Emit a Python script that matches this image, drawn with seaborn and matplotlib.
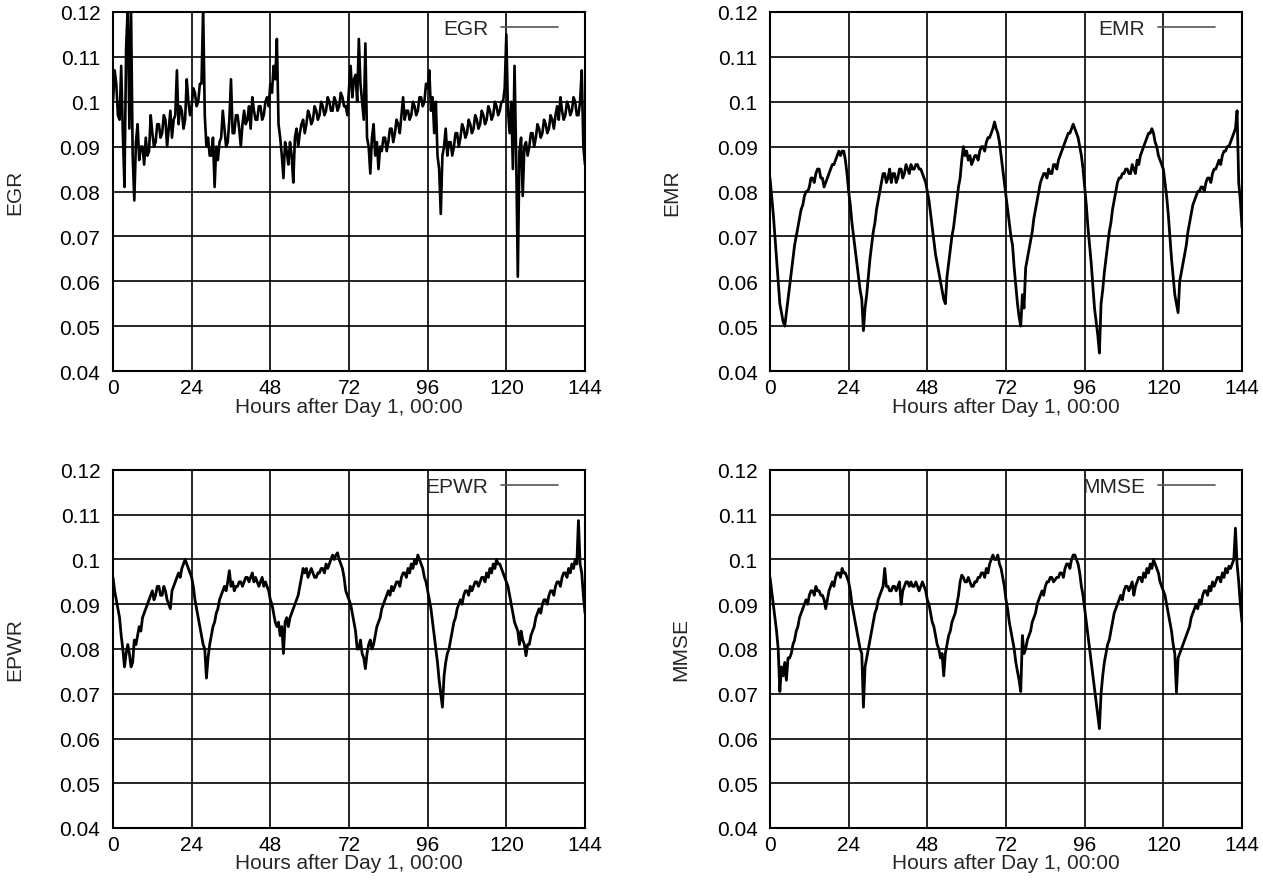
import numpy as np
import pandas as pd
import matplotlib
matplotlib.use("Agg")
import matplotlib.pyplot as plt
import seaborn as sns

sns.set_style("white")
plt.rcParams['font.family'] = ['Liberation Sans', 'DejaVu Sans']

# sample times: every half hour from 0 to 144
hours = np.arange(0, 144.5, 0.5)

# values read at h, h+0.5 for each hour h
egr = [
    0.100, 0.107, 0.104, 0.097, 0.096, 0.108, 0.093, 0.081, 0.112, 0.121,
    0.094, 0.121, 0.088, 0.078, 0.091, 0.095, 0.087, 0.090, 0.090, 0.086,
    0.092, 0.088, 0.089, 0.097, 0.093, 0.090, 0.091, 0.095, 0.095, 0.092,
    0.093, 0.097, 0.096, 0.090, 0.094, 0.098, 0.092, 0.096, 0.097, 0.107,
    0.095, 0.099, 0.098, 0.094, 0.096, 0.105, 0.100, 0.097, 0.099, 0.103,
    0.102, 0.099, 0.100, 0.104, 0.104, 0.121, 0.097, 0.090, 0.092, 0.088,
    0.088, 0.092, 0.081, 0.090, 0.087, 0.091, 0.092, 0.098, 0.094, 0.090,
    0.091, 0.096, 0.105, 0.093, 0.093, 0.097, 0.097, 0.094, 0.090, 0.095,
    0.098, 0.095, 0.096, 0.099, 0.094, 0.101, 0.098, 0.096, 0.096, 0.099,
    0.099, 0.096, 0.097, 0.100, 0.101, 0.099, 0.104, 0.102, 0.108, 0.105,
    0.114, 0.095, 0.092, 0.088, 0.083, 0.091, 0.089, 0.086, 0.091, 0.088,
    0.082, 0.092, 0.094, 0.090, 0.093, 0.095, 0.096, 0.093, 0.095, 0.098,
    0.097, 0.095, 0.096, 0.099, 0.098, 0.096, 0.097, 0.100, 0.099, 0.097,
    0.098, 0.101, 0.100, 0.098, 0.098, 0.101, 0.100, 0.098, 0.099, 0.102,
    0.101, 0.099, 0.099, 0.097, 0.103, 0.108, 0.101, 0.105, 0.106, 0.100,
    0.114, 0.104, 0.100, 0.096, 0.113, 0.092, 0.090, 0.084, 0.092, 0.095,
    0.088, 0.091, 0.085, 0.090, 0.089, 0.092, 0.092, 0.089, 0.091, 0.094,
    0.094, 0.091, 0.093, 0.096, 0.095, 0.093, 0.097, 0.101, 0.096, 0.098,
    0.098, 0.096, 0.097, 0.100, 0.099, 0.097, 0.098, 0.101, 0.101, 0.099,
    0.100, 0.104, 0.103, 0.107, 0.098, 0.101, 0.093, 0.100, 0.088, 0.085,
    0.075, 0.088, 0.090, 0.094, 0.088, 0.091, 0.091, 0.088, 0.090, 0.093,
    0.093, 0.090, 0.092, 0.095, 0.094, 0.092, 0.093, 0.096, 0.095, 0.093,
    0.094, 0.097, 0.096, 0.094, 0.095, 0.098, 0.097, 0.095, 0.096, 0.099,
    0.098, 0.096, 0.097, 0.100, 0.099, 0.097, 0.098, 0.100, 0.100, 0.103,
    0.115, 0.098, 0.093, 0.100, 0.085, 0.108, 0.088, 0.061, 0.089, 0.092,
    0.079, 0.090, 0.091, 0.088, 0.090, 0.093, 0.093, 0.090, 0.092, 0.095,
    0.094, 0.092, 0.093, 0.096, 0.095, 0.093, 0.094, 0.097, 0.096, 0.094,
    0.097, 0.099, 0.096, 0.101, 0.098, 0.096, 0.097, 0.100, 0.099, 0.097,
    0.098, 0.101, 0.100, 0.097, 0.097, 0.100, 0.107, 0.090, 0.086]

emr = [
    0.083, 0.079, 0.075, 0.070, 0.065, 0.060, 0.055, 0.053, 0.051, 0.050,
    0.053, 0.056, 0.059, 0.062, 0.065, 0.068, 0.070, 0.072, 0.074, 0.076,
    0.077, 0.079, 0.080, 0.080, 0.081, 0.083, 0.083, 0.082, 0.084, 0.085,
    0.085, 0.083, 0.083, 0.081, 0.082, 0.083, 0.084, 0.085, 0.086, 0.086,
    0.087, 0.088, 0.089, 0.088, 0.089, 0.089, 0.087, 0.084, 0.080, 0.077,
    0.073, 0.070, 0.067, 0.064, 0.061, 0.058, 0.056, 0.049, 0.054, 0.057,
    0.061, 0.065, 0.068, 0.071, 0.073, 0.076, 0.078, 0.080, 0.082, 0.084,
    0.084, 0.082, 0.083, 0.085, 0.082, 0.084, 0.084, 0.082, 0.083, 0.085,
    0.085, 0.083, 0.084, 0.086, 0.085, 0.084, 0.086, 0.085, 0.085, 0.086,
    0.086, 0.085, 0.085, 0.084, 0.083, 0.082, 0.080, 0.078, 0.075, 0.072,
    0.069, 0.066, 0.064, 0.062, 0.060, 0.058, 0.056, 0.055, 0.061, 0.064,
    0.067, 0.070, 0.072, 0.075, 0.078, 0.081, 0.083, 0.087, 0.090, 0.088,
    0.089, 0.087, 0.088, 0.086, 0.087, 0.088, 0.088, 0.087, 0.089, 0.090,
    0.090, 0.089, 0.091, 0.092, 0.092, 0.093, 0.094, 0.0955, 0.094, 0.093,
    0.091, 0.088, 0.085, 0.082, 0.079, 0.076, 0.073, 0.070, 0.068, 0.063,
    0.059, 0.055, 0.052, 0.050, 0.057, 0.054, 0.063, 0.065, 0.067, 0.069,
    0.071, 0.074, 0.076, 0.078, 0.080, 0.082, 0.083, 0.084, 0.084, 0.083,
    0.085, 0.084, 0.084, 0.086, 0.086, 0.085, 0.087, 0.088, 0.089, 0.090,
    0.091, 0.092, 0.093, 0.093, 0.094, 0.095, 0.094, 0.093, 0.092, 0.090,
    0.088, 0.085, 0.081, 0.077, 0.072, 0.068, 0.064, 0.059, 0.054, 0.051,
    0.048, 0.044, 0.055, 0.058, 0.062, 0.065, 0.068, 0.071, 0.073, 0.076,
    0.078, 0.080, 0.082, 0.083, 0.083, 0.084, 0.084, 0.085, 0.085, 0.084,
    0.084, 0.086, 0.085, 0.084, 0.087, 0.086, 0.088, 0.089, 0.090, 0.091,
    0.092, 0.093, 0.093, 0.094, 0.093, 0.091, 0.090, 0.088, 0.087, 0.086,
    0.085, 0.082, 0.079, 0.075, 0.070, 0.065, 0.061, 0.057, 0.055, 0.053,
    0.060, 0.062, 0.064, 0.066, 0.068, 0.071, 0.073, 0.075, 0.077, 0.078,
    0.079, 0.080, 0.080, 0.081, 0.081, 0.080, 0.082, 0.083, 0.083, 0.082,
    0.084, 0.085, 0.085, 0.086, 0.087, 0.086, 0.088, 0.089, 0.089, 0.090,
    0.090, 0.091, 0.092, 0.093, 0.094, 0.098, 0.082, 0.078, 0.072]

epwr = [
    0.096, 0.093, 0.091, 0.089, 0.087, 0.083, 0.080, 0.076, 0.079, 0.081,
    0.079, 0.076, 0.077, 0.082, 0.081, 0.083, 0.085, 0.084, 0.087, 0.088,
    0.089, 0.090, 0.091, 0.092, 0.093, 0.091, 0.092, 0.094, 0.094, 0.092,
    0.092, 0.094, 0.093, 0.091, 0.090, 0.089, 0.093, 0.094, 0.095, 0.096,
    0.097, 0.096, 0.098, 0.099, 0.100, 0.099, 0.098, 0.097, 0.096, 0.094,
    0.091, 0.089, 0.087, 0.085, 0.083, 0.081, 0.080, 0.0735, 0.078, 0.081,
    0.083, 0.085, 0.086, 0.088, 0.089, 0.091, 0.092, 0.093, 0.094, 0.093,
    0.095, 0.0975, 0.094, 0.095, 0.093, 0.094, 0.094, 0.095, 0.095, 0.094,
    0.095, 0.096, 0.096, 0.095, 0.096, 0.097, 0.095, 0.096, 0.095, 0.094,
    0.095, 0.096, 0.094, 0.095, 0.094, 0.093, 0.091, 0.090, 0.088, 0.086,
    0.085, 0.086, 0.083, 0.085, 0.079, 0.086, 0.087, 0.085, 0.087, 0.088,
    0.089, 0.090, 0.091, 0.092, 0.094, 0.096, 0.098, 0.097, 0.098, 0.096,
    0.097, 0.098, 0.097, 0.096, 0.096, 0.097, 0.097, 0.098, 0.098, 0.097,
    0.099, 0.098, 0.099, 0.100, 0.101, 0.100, 0.101, 0.1015, 0.100, 0.099,
    0.098, 0.096, 0.093, 0.092, 0.091, 0.090, 0.088, 0.086, 0.084, 0.080,
    0.080, 0.082, 0.079, 0.078, 0.0756, 0.079, 0.081, 0.082, 0.080, 0.081,
    0.083, 0.085, 0.086, 0.087, 0.089, 0.090, 0.091, 0.092, 0.093, 0.092,
    0.094, 0.093, 0.094, 0.095, 0.095, 0.094, 0.096, 0.097, 0.097, 0.096,
    0.098, 0.097, 0.099, 0.098, 0.100, 0.099, 0.101, 0.100, 0.099, 0.098,
    0.096, 0.095, 0.093, 0.091, 0.089, 0.086, 0.083, 0.080, 0.077, 0.073,
    0.070, 0.067, 0.074, 0.077, 0.079, 0.080, 0.082, 0.084, 0.086, 0.087,
    0.089, 0.090, 0.091, 0.090, 0.092, 0.093, 0.093, 0.092, 0.094, 0.093,
    0.094, 0.095, 0.095, 0.094, 0.095, 0.096, 0.096, 0.095, 0.097, 0.096,
    0.098, 0.097, 0.099, 0.098, 0.100, 0.099, 0.099, 0.098, 0.097, 0.096,
    0.095, 0.094, 0.092, 0.090, 0.088, 0.086, 0.085, 0.084, 0.081, 0.084,
    0.082, 0.081, 0.0785, 0.081, 0.081, 0.083, 0.084, 0.085, 0.087, 0.088,
    0.089, 0.088, 0.090, 0.091, 0.091, 0.090, 0.092, 0.093, 0.093, 0.092,
    0.094, 0.095, 0.095, 0.094, 0.096, 0.097, 0.097, 0.096, 0.098, 0.097,
    0.099, 0.098, 0.100, 0.099, 0.1087, 0.099, 0.097, 0.092, 0.088]

mmse = [
    0.096, 0.093, 0.090, 0.087, 0.084, 0.080, 0.0705, 0.076, 0.074, 0.077,
    0.073, 0.078, 0.078, 0.079, 0.081, 0.082, 0.084, 0.085, 0.087, 0.088,
    0.089, 0.090, 0.091, 0.090, 0.092, 0.093, 0.093, 0.092, 0.094, 0.093,
    0.093, 0.092, 0.092, 0.091, 0.089, 0.091, 0.093, 0.094, 0.095, 0.094,
    0.096, 0.097, 0.097, 0.096, 0.098, 0.097, 0.097, 0.096, 0.095, 0.093,
    0.090, 0.088, 0.086, 0.084, 0.082, 0.080, 0.079, 0.067, 0.076, 0.078,
    0.080, 0.082, 0.084, 0.086, 0.088, 0.089, 0.091, 0.092, 0.093, 0.094,
    0.098, 0.094, 0.094, 0.093, 0.093, 0.094, 0.094, 0.093, 0.094, 0.095,
    0.090, 0.093, 0.094, 0.095, 0.095, 0.094, 0.095, 0.094, 0.094, 0.095,
    0.094, 0.093, 0.094, 0.095, 0.094, 0.093, 0.091, 0.090, 0.088, 0.086,
    0.085, 0.083, 0.081, 0.080, 0.078, 0.079, 0.074, 0.079, 0.081, 0.083,
    0.084, 0.086, 0.087, 0.088, 0.090, 0.092, 0.095, 0.0965, 0.096, 0.095,
    0.095, 0.096, 0.095, 0.094, 0.094, 0.095, 0.095, 0.096, 0.096, 0.097,
    0.097, 0.096, 0.098, 0.097, 0.099, 0.100, 0.101, 0.100, 0.100, 0.101,
    0.099, 0.098, 0.096, 0.094, 0.091, 0.089, 0.086, 0.084, 0.082, 0.080,
    0.077, 0.075, 0.073, 0.0705, 0.083, 0.079, 0.080, 0.082, 0.083, 0.084,
    0.086, 0.087, 0.088, 0.090, 0.091, 0.092, 0.093, 0.092, 0.094, 0.095,
    0.095, 0.096, 0.096, 0.095, 0.0955, 0.096, 0.096, 0.097, 0.097, 0.096,
    0.098, 0.099, 0.099, 0.098, 0.100, 0.101, 0.101, 0.100, 0.099, 0.097,
    0.094, 0.092, 0.089, 0.086, 0.083, 0.080, 0.077, 0.074, 0.071, 0.068,
    0.065, 0.0622, 0.070, 0.074, 0.077, 0.079, 0.081, 0.082, 0.084, 0.086,
    0.088, 0.089, 0.090, 0.091, 0.092, 0.091, 0.093, 0.094, 0.094, 0.093,
    0.094, 0.095, 0.092, 0.094, 0.095, 0.096, 0.096, 0.095, 0.097, 0.096,
    0.098, 0.097, 0.099, 0.098, 0.100, 0.099, 0.098, 0.097, 0.095, 0.094,
    0.093, 0.092, 0.090, 0.088, 0.086, 0.084, 0.081, 0.079, 0.0703, 0.078,
    0.079, 0.080, 0.081, 0.082, 0.083, 0.084, 0.085, 0.087, 0.088, 0.089,
    0.090, 0.089, 0.091, 0.090, 0.092, 0.093, 0.093, 0.092, 0.094, 0.093,
    0.095, 0.094, 0.095, 0.096, 0.096, 0.095, 0.097, 0.096, 0.098, 0.097,
    0.0985, 0.098, 0.099, 0.100, 0.107, 0.099, 0.095, 0.090, 0.086]

names = ["EGR", "EMR", "EPWR", "MMSE"]
series = [egr, emr, epwr, mmse]

x_ticks = [0, 24, 48, 72, 96, 120, 144]
y_ticks = [0.04, 0.05, 0.06, 0.07, 0.08, 0.09, 0.10, 0.11, 0.12]
y_tick_labels = ["0.04", "0.05", "0.06", "0.07", "0.08", "0.09", "0.1", "0.11", "0.12"]
x_label = "Hours after Day 1, 00:00"

W, H = 1263, 895
fig = plt.figure(figsize=(W / 100, H / 100), dpi=100)
fig.patch.set_facecolor("white")

# axes boxes in pixels: left, right, top, bottom
boxes = [(113, 585, 13, 372), (770, 1242, 13, 372),
         (113, 585, 471, 829), (770, 1242, 471, 829)]
ylabel_x = [-0.2076, -0.2076, -0.2076, -0.19]
line_w = [1.9, 2.0, 2.0, 2.0]
FS = 15

for i, (name, vals, (l, r, t, b)) in enumerate(zip(names, series, boxes)):
    ax = fig.add_axes([l / W, 1 - b / H, (r - l) / W, (b - t) / H])
    n = min(len(hours), len(vals))
    df = pd.DataFrame({"hour": hours[:n], "value": vals[:n]})
    sns.lineplot(data=df, x="hour", y="value", ax=ax, color="black",
                 linewidth=line_w[i], estimator=None, sort=False, label=name)
    ax.set_xlim(0, 144)
    ax.set_ylim(0.04, 0.12)
    ax.set_xticks(x_ticks)
    ax.set_xticklabels([str(v) for v in x_ticks])
    ax.set_yticks(y_ticks)
    ax.set_yticklabels(y_tick_labels)
    ax.grid(True, color="black", linewidth=1.2)
    ax.set_axisbelow(True)
    for s in ax.spines.values():
        s.set_color("black")
        s.set_linewidth(1.5)
        s.set_visible(True)
    ax.tick_params(axis="both", length=0, labelsize=FS, colors="black")
    ax.tick_params(axis="x", pad=5)
    ax.tick_params(axis="y", pad=9)
    ax.set_xlabel(x_label, fontsize=FS, va="center")
    ax.xaxis.set_label_coords(0.5, -0.0975)
    ax.set_ylabel(name, fontsize=FS, va="center")
    ax.yaxis.set_label_coords(ylabel_x[i], 0.5)
    leg = ax.legend(loc="center right", bbox_to_anchor=(0.943, 0.953),
                    frameon=False, markerfirst=False, fontsize=FS,
                    handlelength=2.75, handletextpad=0.6, borderpad=0,
                    borderaxespad=0)
    for h in leg.get_lines():
        h.set_color("#555555")
        h.set_linewidth(1.2)

fig.savefig("out.png", dpi=100, facecolor="white")
